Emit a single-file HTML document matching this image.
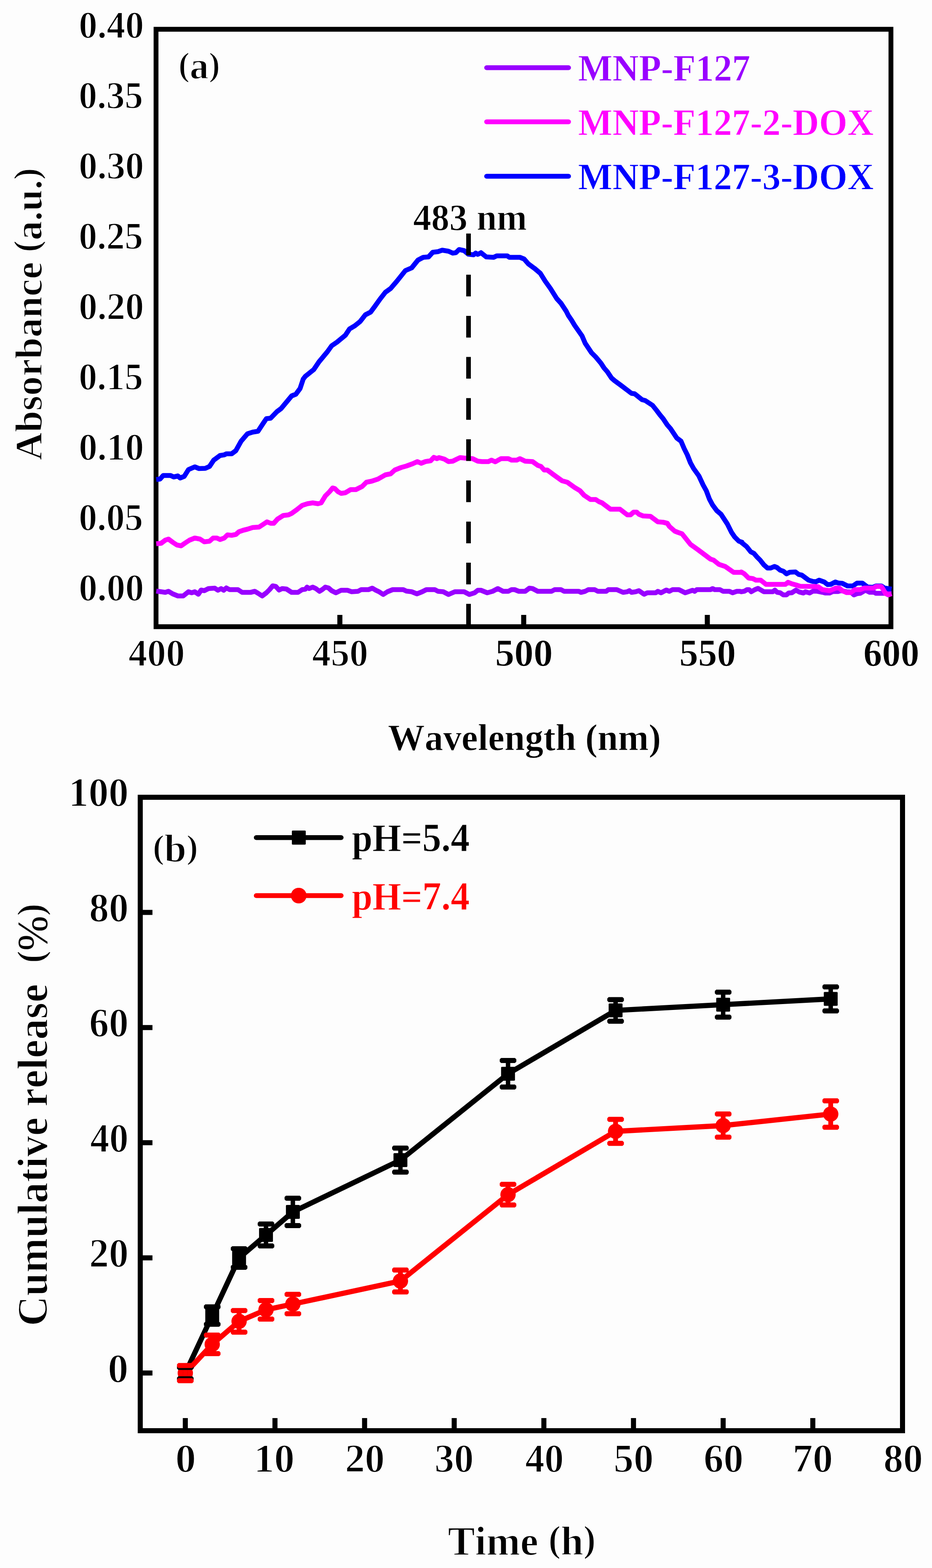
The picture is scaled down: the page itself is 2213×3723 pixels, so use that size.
<!DOCTYPE html>
<html lang="en"><head><meta charset="utf-8"><title>UV-vis absorbance and cumulative release</title>
<style>html,body{margin:0;padding:0;background:#fdfdfd}body{width:2213px;height:3723px;overflow:hidden}svg{display:block}text{font-family:"Liberation Serif","DejaVu Serif",serif;font-weight:bold;font-size:87.5px;font-kerning:none;white-space:pre}</style></head><body>
<svg width="2213" height="3723" viewBox="0 0 2213 3723" role="img" aria-label="Absorbance spectra and cumulative release curves">
<desc>(a) Absorbance (a.u.) versus Wavelength (nm) for MNP-F127, MNP-F127-2-DOX and MNP-F127-3-DOX, peak at 483 nm. (b) Cumulative release (%) versus Time (h) at pH=5.4 and pH=7.4.</desc>
<rect width="2213" height="3723" fill="#fdfdfd"/>
<g fill="none" stroke-linejoin="round" stroke-linecap="butt">
<rect x="370.5" y="69.5" width="1745" height="1418.5" stroke="#000" stroke-width="11.5" stroke-linejoin="miter"/>
<line x1="807.0" y1="1460" x2="807.0" y2="1484" stroke="#000" stroke-width="12"/>
<line x1="1243.5" y1="1460" x2="1243.5" y2="1484" stroke="#000" stroke-width="12"/>
<line x1="1679.5" y1="1460" x2="1679.5" y2="1484" stroke="#000" stroke-width="12"/>
<path d="M371.0 1403.5 L382.5 1405.0 L392.5 1406.5 L400.0 1404.0 L410.0 1410.0 L422.5 1415.0 L435.0 1415.0 L447.5 1405.0 L455.0 1407.5 L462.5 1405.0 L471.0 1411.0 L477.5 1401.0 L485.0 1402.5 L495.0 1397.5 L510.0 1396.5 L517.5 1401.5 L525.0 1397.5 L531.0 1401.5 L537.5 1396.0 L545.0 1400.0 L565.0 1400.0 L575.0 1406.5 L595.0 1406.5 L605.0 1404.0 L612.5 1408.5 L622.5 1415.0 L632.5 1407.5 L640.0 1400.0 L647.5 1391.0 L655.0 1392.5 L662.5 1401.0 L670.0 1397.5 L680.0 1398.5 L692.5 1406.5 L707.5 1406.5 L717.5 1400.0 L725.0 1399.0 L729.0 1394.0 L734.0 1397.5 L742.5 1394.0 L750.0 1397.5 L758.5 1404.0 L765.0 1400.0 L772.5 1394.0 L780.0 1396.0 L787.5 1402.5 L797.5 1407.5 L810.0 1401.5 L825.0 1401.5 L835.0 1405.0 L850.0 1404.0 L857.5 1400.0 L875.0 1400.0 L884.0 1396.5 L892.5 1401.5 L900.0 1405.0 L910.0 1411.5 L920.0 1405.0 L932.5 1400.0 L957.5 1400.0 L965.0 1403.5 L977.5 1405.0 L990.0 1410.0 L1002.5 1405.0 L1012.5 1400.0 L1032.5 1400.0 L1040.0 1404.0 L1052.5 1405.0 L1065.0 1411.5 L1080.0 1405.0 L1102.0 1405.0 L1114.5 1411.5 L1127.0 1407.5 L1134.5 1401.5 L1142.0 1401.5 L1157.0 1407.5 L1169.5 1404.0 L1182.0 1397.5 L1194.5 1404.0 L1207.0 1404.0 L1214.5 1400.0 L1222.0 1400.0 L1232.0 1404.0 L1247.0 1404.0 L1257.0 1396.5 L1264.5 1397.5 L1277.0 1404.0 L1309.5 1404.0 L1317.0 1400.0 L1332.0 1400.0 L1339.5 1404.0 L1374.5 1404.0 L1379.5 1406.5 L1389.5 1404.0 L1397.0 1400.0 L1412.0 1400.0 L1419.5 1404.0 L1439.5 1404.0 L1444.5 1400.0 L1464.5 1400.0 L1479.5 1406.5 L1489.5 1405.0 L1494.5 1402.5 L1499.5 1406.5 L1509.5 1405.0 L1517.0 1402.5 L1529.5 1411.0 L1537.0 1407.5 L1557.0 1407.5 L1562.0 1404.0 L1569.5 1407.5 L1582.0 1401.0 L1589.5 1404.0 L1597.0 1400.0 L1612.0 1400.0 L1627.0 1407.5 L1644.5 1401.5 L1649.5 1404.0 L1654.5 1400.0 L1687.0 1400.0 L1692.0 1397.5 L1697.0 1400.0 L1709.5 1400.0 L1717.0 1404.0 L1732.0 1404.0 L1739.5 1407.5 L1749.5 1404.0 L1757.0 1404.0 L1760.0 1405.0 L1767.5 1403.8 L1773.8 1400.0 L1778.8 1400.0 L1783.8 1405.0 L1792.5 1400.0 L1800.0 1397.0 L1813.8 1405.0 L1835.0 1405.0 L1840.0 1401.2 L1845.0 1406.2 L1852.5 1407.5 L1860.0 1412.5 L1867.5 1412.5 L1872.5 1408.0 L1880.0 1407.5 L1890.0 1401.2 L1897.5 1405.5 L1907.5 1408.0 L1912.5 1405.0 L1922.5 1408.0 L1930.0 1403.8 L1940.0 1403.8 L1952.5 1406.2 L1960.0 1408.0 L1970.0 1408.0 L1977.5 1404.5 L1990.0 1404.5 L1997.5 1402.5 L2010.0 1405.0 L2020.0 1405.5 L2027.5 1412.5 L2035.0 1409.5 L2042.5 1408.8 L2055.0 1401.2 L2065.0 1406.2 L2075.0 1406.2 L2080.0 1408.8 L2092.5 1408.8 L2117.0 1408.8" stroke="#9900ff" stroke-width="11.6"/>
<path d="M371.0 1138.5 L380.0 1137.5 L387.5 1129.0 L405.0 1129.0 L412.5 1132.5 L422.5 1130.0 L427.5 1135.0 L437.5 1131.0 L447.5 1115.0 L462.5 1108.5 L472.5 1112.5 L487.5 1112.0 L497.5 1107.5 L507.5 1092.5 L522.5 1081.5 L532.5 1080.0 L537.5 1077.5 L550.0 1077.5 L560.0 1070.0 L572.5 1047.5 L587.5 1030.0 L600.0 1026.0 L612.5 1024.0 L625.0 1005.0 L632.5 994.0 L642.5 993.0 L657.5 977.5 L667.5 970.0 L680.0 955.0 L692.5 940.0 L702.5 936.0 L712.5 922.5 L720.0 900.0 L725.0 893.5 L745.0 877.5 L757.5 859.0 L770.0 844.0 L777.5 835.0 L787.5 821.0 L800.0 812.5 L820.0 796.0 L830.0 781.0 L842.5 773.5 L855.0 763.5 L867.5 747.5 L880.0 741.0 L890.0 727.5 L902.5 710.0 L915.0 694.0 L927.5 685.0 L942.5 667.5 L962.5 642.5 L977.5 636.0 L992.5 617.5 L1005.0 611.0 L1017.5 610.0 L1027.5 599.0 L1040.0 597.5 L1050.0 594.0 L1065.0 596.5 L1075.0 601.0 L1082.5 600.0 L1090.0 592.5 L1102.0 595.0 L1112.0 603.5 L1124.5 605.0 L1129.5 601.0 L1134.5 604.0 L1142.0 600.0 L1154.5 610.0 L1172.0 611.0 L1179.5 607.5 L1204.5 607.5 L1209.5 611.0 L1234.5 611.0 L1244.5 615.0 L1254.5 626.5 L1269.5 637.5 L1283.0 649.0 L1294.5 667.5 L1307.0 685.0 L1322.0 709.0 L1332.0 720.0 L1344.5 739.0 L1349.5 749.0 L1357.0 760.0 L1364.5 772.5 L1382.0 797.5 L1389.5 815.0 L1404.5 837.5 L1414.5 847.5 L1427.0 862.5 L1434.5 874.0 L1442.0 882.5 L1452.0 897.5 L1459.5 904.0 L1474.5 915.0 L1499.5 934.0 L1507.0 935.0 L1524.5 949.0 L1532.0 951.0 L1549.5 962.5 L1559.5 975.0 L1567.0 985.0 L1574.5 994.0 L1584.5 1009.0 L1592.0 1017.5 L1607.0 1040.0 L1617.0 1047.5 L1624.5 1065.0 L1632.0 1080.0 L1639.5 1099.0 L1647.0 1112.5 L1659.5 1130.0 L1669.5 1151.5 L1677.0 1165.0 L1684.5 1185.0 L1692.0 1199.0 L1702.0 1212.5 L1712.0 1221.0 L1727.0 1244.0 L1737.0 1264.0 L1744.5 1275.0 L1754.5 1285.0 L1762.0 1287.5 L1760.0 1287.5 L1772.5 1297.5 L1782.5 1310.0 L1790.0 1313.8 L1797.5 1322.5 L1805.0 1330.0 L1813.8 1341.2 L1822.5 1348.8 L1830.0 1348.8 L1838.8 1345.0 L1845.0 1347.5 L1852.5 1353.8 L1860.0 1356.2 L1867.5 1362.5 L1875.0 1358.8 L1888.8 1358.0 L1896.2 1363.8 L1903.8 1365.5 L1920.0 1377.5 L1930.0 1380.5 L1937.5 1381.2 L1945.0 1377.5 L1957.5 1382.0 L1965.0 1388.0 L1972.5 1387.5 L1983.8 1381.8 L1990.0 1384.2 L2000.0 1385.0 L2012.5 1391.2 L2025.0 1391.2 L2035.0 1384.5 L2047.5 1384.5 L2060.0 1393.8 L2072.5 1394.5 L2080.0 1391.2 L2092.5 1391.2 L2100.0 1396.2 L2117.0 1398.8" stroke="#0000ff" stroke-width="11.6"/>
<path d="M371.0 1291.0 L382.5 1290.0 L392.5 1282.5 L400.0 1280.0 L410.0 1287.5 L420.0 1294.0 L430.0 1296.0 L440.0 1289.0 L450.0 1282.5 L462.5 1277.5 L475.0 1280.0 L485.0 1286.5 L497.5 1285.0 L506.0 1277.5 L515.0 1277.5 L522.5 1281.0 L532.5 1277.5 L540.0 1270.0 L550.0 1271.0 L560.0 1269.0 L567.5 1262.5 L577.5 1259.0 L587.5 1256.5 L600.0 1252.5 L615.0 1251.5 L625.0 1245.0 L634.0 1239.0 L642.5 1242.5 L650.0 1242.5 L659.0 1232.5 L672.5 1224.0 L685.0 1222.5 L692.5 1219.0 L705.0 1210.0 L717.5 1200.0 L730.0 1196.0 L742.5 1194.0 L755.0 1196.0 L762.5 1194.0 L772.5 1177.5 L782.5 1167.5 L790.0 1158.5 L795.0 1160.0 L802.5 1167.5 L810.0 1171.5 L820.0 1170.0 L832.5 1162.5 L845.0 1162.5 L860.0 1155.0 L870.0 1145.0 L882.5 1142.5 L897.5 1137.5 L915.0 1127.5 L927.5 1125.0 L937.5 1116.0 L952.5 1110.0 L965.0 1106.5 L980.0 1101.0 L991.0 1096.0 L1000.0 1100.0 L1010.0 1096.0 L1022.5 1094.0 L1030.0 1086.0 L1037.5 1089.0 L1042.5 1086.5 L1055.0 1090.0 L1065.0 1096.0 L1075.0 1095.0 L1085.0 1090.0 L1092.5 1086.5 L1102.0 1087.5 L1122.0 1089.0 L1134.5 1095.0 L1144.5 1096.0 L1159.5 1096.0 L1167.0 1092.5 L1176.0 1096.5 L1189.5 1089.0 L1207.0 1089.0 L1214.5 1092.5 L1227.0 1092.5 L1234.5 1089.0 L1247.0 1095.0 L1264.5 1096.0 L1277.0 1105.0 L1284.5 1107.5 L1292.0 1116.0 L1299.5 1116.0 L1317.0 1129.0 L1334.5 1141.5 L1347.0 1145.0 L1364.5 1157.5 L1377.0 1165.0 L1387.0 1176.0 L1402.0 1186.0 L1414.5 1186.0 L1422.0 1191.0 L1429.5 1194.0 L1449.5 1209.0 L1472.0 1209.0 L1489.5 1222.5 L1497.0 1222.5 L1504.5 1216.0 L1512.0 1216.0 L1517.0 1221.0 L1527.0 1225.0 L1544.5 1226.0 L1562.0 1239.0 L1574.5 1240.0 L1584.5 1242.5 L1589.5 1250.0 L1602.0 1261.0 L1609.5 1264.0 L1619.5 1267.5 L1639.5 1292.5 L1657.0 1305.0 L1687.0 1327.5 L1694.5 1330.0 L1707.0 1340.0 L1722.0 1345.0 L1742.0 1359.0 L1759.5 1359.0 L1760.0 1358.0 L1767.5 1362.5 L1777.5 1372.5 L1787.5 1373.8 L1795.0 1377.5 L1806.2 1377.5 L1818.8 1387.5 L1865.0 1387.5 L1871.2 1382.5 L1880.0 1386.2 L1890.0 1388.8 L1900.0 1392.0 L1935.0 1392.5 L1942.5 1393.0 L1952.5 1400.0 L1970.0 1402.5 L1985.0 1396.2 L1992.5 1396.2 L2000.0 1402.5 L2010.0 1407.0 L2020.0 1407.0 L2030.0 1400.0 L2042.5 1400.0 L2052.5 1396.2 L2075.0 1396.2 L2080.0 1392.5 L2092.5 1392.5 L2097.5 1400.0 L2102.5 1408.8 L2108.8 1412.5 L2117.0 1409.5" stroke="#ff00ff" stroke-width="11.6"/>
<line x1="1112.5" y1="554.5" x2="1112.5" y2="1484" stroke="#000" stroke-width="11" stroke-dasharray="51.5 46.2"/>
<line x1="1155.5" y1="160.7" x2="1350" y2="160.7" stroke="#9900ff" stroke-width="11.5" stroke-linecap="round"/>
<line x1="1155.5" y1="289.3" x2="1350" y2="289.3" stroke="#ff00ff" stroke-width="11.5" stroke-linecap="round"/>
<line x1="1155.5" y1="418.5" x2="1350" y2="418.5" stroke="#0000ff" stroke-width="11.5" stroke-linecap="round"/>
</g>
<g fill="none" stroke-linejoin="round">
<rect x="333" y="1893" width="1810" height="1504" stroke="#000" stroke-width="12" stroke-linejoin="miter"/>
<line x1="338" y1="3260.0" x2="362" y2="3260.0" stroke="#000" stroke-width="12"/>
<line x1="338" y1="2986.6" x2="362" y2="2986.6" stroke="#000" stroke-width="12"/>
<line x1="338" y1="2713.2" x2="362" y2="2713.2" stroke="#000" stroke-width="12"/>
<line x1="338" y1="2439.8" x2="362" y2="2439.8" stroke="#000" stroke-width="12"/>
<line x1="338" y1="2166.4" x2="362" y2="2166.4" stroke="#000" stroke-width="12"/>
<line x1="440.0" y1="3367" x2="440.0" y2="3392" stroke="#000" stroke-width="12"/>
<line x1="652.9" y1="3367" x2="652.9" y2="3392" stroke="#000" stroke-width="12"/>
<line x1="865.7" y1="3367" x2="865.7" y2="3392" stroke="#000" stroke-width="12"/>
<line x1="1078.5" y1="3367" x2="1078.5" y2="3392" stroke="#000" stroke-width="12"/>
<line x1="1291.4" y1="3367" x2="1291.4" y2="3392" stroke="#000" stroke-width="12"/>
<line x1="1504.2" y1="3367" x2="1504.2" y2="3392" stroke="#000" stroke-width="12"/>
<line x1="1717.1" y1="3367" x2="1717.1" y2="3392" stroke="#000" stroke-width="12"/>
<line x1="1930.0" y1="3367" x2="1930.0" y2="3392" stroke="#000" stroke-width="12"/>
<path d="M440.0 3260.3 L503.9 3123.6 L567.7 2986.9 L631.6 2932.2 L695.4 2877.5 L950.8 2754.5 L1206.3 2549.5 L1461.7 2399.1 L1717.1 2385.4 L1972.5 2371.8" stroke="#000" stroke-width="12.4"/>
<path d="M440.0 3260.3 L503.9 3192.0 L567.7 3137.3 L631.6 3109.9 L695.4 3096.3 L950.8 3041.6 L1206.3 2836.5 L1461.7 2686.2 L1717.1 2672.5 L1972.5 2645.2" stroke="#ff0000" stroke-width="12.4"/>
</g>
<rect x="423.5" y="3243.8" width="33" height="33" rx="2" fill="#000"/>
<rect x="487.4" y="3107.1" width="33" height="33" rx="2" fill="#000"/>
<rect x="551.2" y="2970.4" width="33" height="33" rx="2" fill="#000"/>
<rect x="615.1" y="2915.7" width="33" height="33" rx="2" fill="#000"/>
<rect x="678.9" y="2861.0" width="33" height="33" rx="2" fill="#000"/>
<rect x="934.3" y="2738.0" width="33" height="33" rx="2" fill="#000"/>
<rect x="1189.8" y="2533.0" width="33" height="33" rx="2" fill="#000"/>
<rect x="1445.2" y="2382.6" width="33" height="33" rx="2" fill="#000"/>
<rect x="1700.6" y="2368.9" width="33" height="33" rx="2" fill="#000"/>
<rect x="1956.0" y="2355.2" width="33" height="33" rx="2" fill="#000"/>
<circle cx="440.0" cy="3260.3" r="18.2" fill="#ff0000"/>
<circle cx="503.9" cy="3192.0" r="18.2" fill="#ff0000"/>
<circle cx="567.7" cy="3137.3" r="18.2" fill="#ff0000"/>
<circle cx="631.6" cy="3109.9" r="18.2" fill="#ff0000"/>
<circle cx="695.4" cy="3096.3" r="18.2" fill="#ff0000"/>
<circle cx="950.8" cy="3041.6" r="18.2" fill="#ff0000"/>
<circle cx="1206.3" cy="2836.5" r="18.2" fill="#ff0000"/>
<circle cx="1461.7" cy="2686.2" r="18.2" fill="#ff0000"/>
<circle cx="1717.1" cy="2672.5" r="18.2" fill="#ff0000"/>
<circle cx="1972.5" cy="2645.2" r="18.2" fill="#ff0000"/>
<path d="M440.0 3246.8V3273.8M503.9 3102.9V3144.3M567.7 2964.9V3008.9M631.6 2906.2V2958.2M695.4 2845.0V2910.0M950.8 2726.0V2783.0M1206.3 2518.0V2581.0M1461.7 2373.5V2424.7M1717.1 2355.8V2415.0M1972.5 2343.2V2400.2" fill="none" stroke="#000" stroke-width="10.6"/>
<path d="M440.0 3242.3V3278.3M503.9 3170.0V3214.0M567.7 3111.7V3162.9M631.6 3087.9V3131.9M695.4 3073.3V3119.3M950.8 3015.6V3067.6M1206.3 2812.0V2861.0M1461.7 2657.7V2714.7M1717.1 2645.1V2699.9M1972.5 2613.8V2676.5" fill="none" stroke="#ff0000" stroke-width="11.4"/>
<path d="M423.5 3240.8H456.5L459.7 3244.0V3249.6L456.5 3252.8H423.5L420.3 3249.6V3244.0ZM423.5 3267.8H456.5L459.7 3271.0V3276.6L456.5 3279.8H423.5L420.3 3276.6V3271.0ZM487.4 3096.9H520.4L523.6 3100.1V3105.7L520.4 3108.9H487.4L484.2 3105.7V3100.1ZM487.4 3138.3H520.4L523.6 3141.5V3147.1L520.4 3150.3H487.4L484.2 3147.1V3141.5ZM551.2 2958.9H584.2L587.4 2962.1V2967.7L584.2 2970.9H551.2L548.0 2967.7V2962.1ZM551.2 3002.9H584.2L587.4 3006.1V3011.7L584.2 3014.9H551.2L548.0 3011.7V3006.1ZM615.1 2900.2H648.1L651.3 2903.4V2909.0L648.1 2912.2H615.1L611.9 2909.0V2903.4ZM615.1 2952.2H648.1L651.3 2955.4V2961.0L648.1 2964.2H615.1L611.9 2961.0V2955.4ZM678.9 2839.0H711.9L715.1 2842.2V2847.8L711.9 2851.0H678.9L675.7 2847.8V2842.2ZM678.9 2904.0H711.9L715.1 2907.2V2912.8L711.9 2916.0H678.9L675.7 2912.8V2907.2ZM934.3 2720.0H967.3L970.5 2723.2V2728.8L967.3 2732.0H934.3L931.1 2728.8V2723.2ZM934.3 2777.0H967.3L970.5 2780.2V2785.8L967.3 2789.0H934.3L931.1 2785.8V2780.2ZM1189.8 2512.0H1222.8L1226.0 2515.2V2520.8L1222.8 2524.0H1189.8L1186.6 2520.8V2515.2ZM1189.8 2575.0H1222.8L1226.0 2578.2V2583.8L1222.8 2587.0H1189.8L1186.6 2583.8V2578.2ZM1445.2 2367.5H1478.2L1481.4 2370.7V2376.3L1478.2 2379.5H1445.2L1442.0 2376.3V2370.7ZM1445.2 2418.7H1478.2L1481.4 2421.9V2427.5L1478.2 2430.7H1445.2L1442.0 2427.5V2421.9ZM1700.6 2349.8H1733.6L1736.8 2353.0V2358.6L1733.6 2361.8H1700.6L1697.4 2358.6V2353.0ZM1700.6 2409.0H1733.6L1736.8 2412.2V2417.8L1733.6 2421.0H1700.6L1697.4 2417.8V2412.2ZM1956.0 2337.2H1989.0L1992.2 2340.4V2346.1L1989.0 2349.2H1956.0L1952.8 2346.1V2340.4ZM1956.0 2394.2H1989.0L1992.2 2397.4V2403.1L1989.0 2406.2H1956.0L1952.8 2403.1V2397.4Z" fill="#000"/>
<path d="M423.5 3236.3H456.5L459.7 3239.5V3245.1L456.5 3248.3H423.5L420.3 3245.1V3239.5ZM423.5 3272.3H456.5L459.7 3275.5V3281.1L456.5 3284.3H423.5L420.3 3281.1V3275.5ZM487.4 3164.0H520.4L523.6 3167.2V3172.8L520.4 3176.0H487.4L484.2 3172.8V3167.2ZM487.4 3208.0H520.4L523.6 3211.2V3216.8L520.4 3220.0H487.4L484.2 3216.8V3211.2ZM551.2 3105.7H584.2L587.4 3108.9V3114.5L584.2 3117.7H551.2L548.0 3114.5V3108.9ZM551.2 3156.9H584.2L587.4 3160.1V3165.7L584.2 3168.9H551.2L548.0 3165.7V3160.1ZM615.1 3081.9H648.1L651.3 3085.1V3090.7L648.1 3093.9H615.1L611.9 3090.7V3085.1ZM615.1 3125.9H648.1L651.3 3129.1V3134.7L648.1 3137.9H615.1L611.9 3134.7V3129.1ZM678.9 3067.3H711.9L715.1 3070.5V3076.1L711.9 3079.3H678.9L675.7 3076.1V3070.5ZM678.9 3113.3H711.9L715.1 3116.5V3122.1L711.9 3125.3H678.9L675.7 3122.1V3116.5ZM934.3 3009.6H967.3L970.5 3012.8V3018.4L967.3 3021.6H934.3L931.1 3018.4V3012.8ZM934.3 3061.6H967.3L970.5 3064.8V3070.4L967.3 3073.6H934.3L931.1 3070.4V3064.8ZM1189.8 2806.0H1222.8L1226.0 2809.2V2814.8L1222.8 2818.0H1189.8L1186.6 2814.8V2809.2ZM1189.8 2855.0H1222.8L1226.0 2858.2V2863.8L1222.8 2867.0H1189.8L1186.6 2863.8V2858.2ZM1445.2 2651.7H1478.2L1481.4 2654.9V2660.5L1478.2 2663.7H1445.2L1442.0 2660.5V2654.9ZM1445.2 2708.7H1478.2L1481.4 2711.9V2717.5L1478.2 2720.7H1445.2L1442.0 2717.5V2711.9ZM1700.6 2639.1H1733.6L1736.8 2642.3V2647.9L1733.6 2651.1H1700.6L1697.4 2647.9V2642.3ZM1700.6 2693.9H1733.6L1736.8 2697.1V2702.7L1733.6 2705.9H1700.6L1697.4 2702.7V2697.1ZM1956.0 2607.8H1989.0L1992.2 2611.0V2616.7L1989.0 2619.8H1956.0L1952.8 2616.7V2611.0ZM1956.0 2670.5H1989.0L1992.2 2673.7V2679.3L1989.0 2682.5H1956.0L1952.8 2679.3V2673.7Z" fill="#ff0000"/>
<line x1="608.5" y1="1988.8" x2="810" y2="1988.8" stroke="#000" stroke-width="11.5" stroke-linecap="round"/>
<rect x="693" y="1972" width="33" height="33.5" rx="2" fill="#000"/>
<line x1="608.5" y1="2126.5" x2="810" y2="2126.5" stroke="#ff0000" stroke-width="11.5" stroke-linecap="round"/>
<circle cx="709.3" cy="2126.5" r="18.6" fill="#ff0000"/>
<text transform="translate(186.95 90.00) scale(1.0111 1.0405)" fill="#000" stroke="#fdfdfd" stroke-width="1.95" stroke-linejoin="round">0.40</text>
<text transform="translate(187.01 257.00) scale(0.9973 1.0405)" fill="#000" stroke="#fdfdfd" stroke-width="1.96" stroke-linejoin="round">0.35</text>
<text transform="translate(186.95 424.00) scale(1.0111 1.0405)" fill="#000" stroke="#fdfdfd" stroke-width="1.95" stroke-linejoin="round">0.30</text>
<text transform="translate(187.01 591.00) scale(0.9973 1.0405)" fill="#000" stroke="#fdfdfd" stroke-width="1.96" stroke-linejoin="round">0.25</text>
<text transform="translate(186.95 758.00) scale(1.0111 1.0405)" fill="#000" stroke="#fdfdfd" stroke-width="1.95" stroke-linejoin="round">0.20</text>
<text transform="translate(187.01 925.00) scale(0.9973 1.0405)" fill="#000" stroke="#fdfdfd" stroke-width="1.96" stroke-linejoin="round">0.15</text>
<text transform="translate(186.95 1092.00) scale(1.0111 1.0405)" fill="#000" stroke="#fdfdfd" stroke-width="1.95" stroke-linejoin="round">0.10</text>
<text transform="translate(187.01 1259.00) scale(0.9973 1.0405)" fill="#000" stroke="#fdfdfd" stroke-width="1.96" stroke-linejoin="round">0.05</text>
<text transform="translate(186.95 1426.00) scale(1.0111 1.0405)" fill="#000" stroke="#fdfdfd" stroke-width="1.95" stroke-linejoin="round">0.00</text>
<text transform="translate(304.96 1581.00) scale(1.0192 1.0498)" fill="#000" stroke="#fdfdfd" stroke-width="1.93" stroke-linejoin="round">400</text>
<text transform="translate(740.97 1581.00) scale(1.0160 1.0498)" fill="#000" stroke="#fdfdfd" stroke-width="1.94" stroke-linejoin="round">450</text>
<text transform="translate(1175.84 1580.50) scale(1.0407 1.0334)" fill="#000" stroke="#fdfdfd" stroke-width="0.96" stroke-linejoin="round">500</text>
<text transform="translate(1612.90 1580.50) scale(1.0244 1.0334)" fill="#000" stroke="#fdfdfd" stroke-width="0.97" stroke-linejoin="round">550</text>
<text transform="translate(2049.95 1580.50) scale(1.0130 1.0334)" fill="#000" stroke="#fdfdfd" stroke-width="0.98" stroke-linejoin="round">600</text>
<text transform="translate(423.85 187.30) scale(1.0323 1.0323)" fill="#000" stroke="#fdfdfd" stroke-width="1.94" stroke-linejoin="round"><tspan font-size="77.7" dy="-7.4">(</tspan><tspan dy="7.4">a</tspan><tspan font-size="77.7" dy="-7.4">)</tspan></text>
<text transform="translate(1372.51 191.40) scale(0.9907 1.0263)" fill="#9900ff" stroke="#fdfdfd" stroke-width="0.99" stroke-linejoin="round">MNP-F127</text>
<text transform="translate(1372.52 320.30) scale(0.9898 1.0161)" fill="#ff00ff" stroke="#fdfdfd" stroke-width="1.00" stroke-linejoin="round">MNP-F127-2-DOX</text>
<text transform="translate(1372.52 449.10) scale(0.9898 1.0161)" fill="#0000ff" stroke="#fdfdfd" stroke-width="1.00" stroke-linejoin="round">MNP-F127-3-DOX</text>
<text transform="translate(981.02 545.65) scale(0.9838 1.0210)" fill="#000" stroke="#fdfdfd" stroke-width="1.30" stroke-linejoin="round">483 nm</text>
<text transform="translate(921.00 1781.30) scale(0.9994 1.0060)" fill="#000" stroke="#fdfdfd" stroke-width="1.00" stroke-linejoin="round">Wavelength (nm)</text>
<text transform="translate(99.00 1093.11) rotate(-90) scale(1.0536 1.0426)" fill="#000" stroke="#fdfdfd" stroke-width="1.91" stroke-linejoin="round">Absorbance <tspan font-size="80.9" dy="-7.7">(</tspan><tspan dy="7.7">a.u.</tspan><tspan font-size="80.9" dy="-7.7">)</tspan></text>
<text transform="translate(162.76 1913.90) scale(1.0865 1.1045)" fill="#000" stroke="#fdfdfd" stroke-width="1.83" stroke-linejoin="round">100</text>
<text transform="translate(211.73 2187.50) scale(1.0685 1.1045)" fill="#000" stroke="#fdfdfd" stroke-width="1.84" stroke-linejoin="round">80</text>
<text transform="translate(211.73 2461.10) scale(1.0685 1.1045)" fill="#000" stroke="#fdfdfd" stroke-width="1.84" stroke-linejoin="round">60</text>
<text transform="translate(213.92 2734.70) scale(1.0420 1.1045)" fill="#000" stroke="#fdfdfd" stroke-width="1.86" stroke-linejoin="round">40</text>
<text transform="translate(211.67 3008.30) scale(1.0693 1.1045)" fill="#000" stroke="#fdfdfd" stroke-width="1.84" stroke-linejoin="round">20</text>
<text transform="translate(255.96 3281.90) scale(1.1143 1.1045)" fill="#000" stroke="#fdfdfd" stroke-width="1.80" stroke-linejoin="round">0</text>
<text transform="translate(416.54 3495.30) scale(1.1157 1.0932)" fill="#000" stroke="#fdfdfd" stroke-width="1.81" stroke-linejoin="round">0</text>
<text transform="translate(602.65 3495.30) scale(1.1068 1.0932)" fill="#000" stroke="#fdfdfd" stroke-width="1.82" stroke-linejoin="round">10</text>
<text transform="translate(819.13 3495.30) scale(1.0771 1.0932)" fill="#000" stroke="#fdfdfd" stroke-width="1.84" stroke-linejoin="round">20</text>
<text transform="translate(1031.73 3495.30) scale(1.0634 1.0932)" fill="#000" stroke="#fdfdfd" stroke-width="1.85" stroke-linejoin="round">30</text>
<text transform="translate(1246.90 3495.30) scale(1.0494 1.0932)" fill="#000" stroke="#fdfdfd" stroke-width="1.87" stroke-linejoin="round">40</text>
<text transform="translate(1457.10 3495.30) scale(1.0848 1.0932)" fill="#000" stroke="#fdfdfd" stroke-width="1.84" stroke-linejoin="round">50</text>
<text transform="translate(1670.68 3495.30) scale(1.0811 1.0932)" fill="#000" stroke="#fdfdfd" stroke-width="1.84" stroke-linejoin="round">60</text>
<text transform="translate(1881.89 3495.30) scale(1.0963 1.0932)" fill="#000" stroke="#fdfdfd" stroke-width="1.83" stroke-linejoin="round">70</text>
<text transform="translate(2097.72 3495.30) scale(1.0710 1.0932)" fill="#000" stroke="#fdfdfd" stroke-width="1.85" stroke-linejoin="round">80</text>
<text transform="translate(362.66 2045.50) scale(1.0792 1.0632)" fill="#000" stroke="#fdfdfd" stroke-width="1.87" stroke-linejoin="round"><tspan font-size="76.4" dy="-7.2">(</tspan><tspan dy="7.2">b</tspan><tspan font-size="76.4" dy="-7.2">)</tspan></text>
<text transform="translate(835.49 2021.10) scale(1.0044 1.0669)" fill="#000" stroke="#fdfdfd" stroke-width="0.97" stroke-linejoin="round">pH=<tspan font-size="89.5">5.4</tspan></text>
<text transform="translate(835.49 2159.50) scale(1.0044 1.0669)" fill="#ff0000" stroke="#fdfdfd" stroke-width="0.97" stroke-linejoin="round">pH=<tspan font-size="89.5">7.4</tspan></text>
<text transform="translate(1063.26 3692.00) scale(1.1055 1.1221)" fill="#000" stroke="#fdfdfd" stroke-width="1.80" stroke-linejoin="round">Time <tspan font-size="79.3" dy="-6.7">(</tspan><tspan dy="6.7">h</tspan><tspan font-size="79.3" dy="-6.7">)</tspan></text>
<text transform="translate(112.00 3148.75) rotate(-90) scale(1.1335 1.1510)" fill="#000" stroke="#fdfdfd" stroke-width="1.75" stroke-linejoin="round">Cumulative release  <tspan font-size="78.1" dy="-8.4">(</tspan><tspan dy="8.4"><tspan font-weight="normal" stroke="none">%</tspan></tspan><tspan font-size="78.1" dy="-8.4">)</tspan></text>
</svg></body></html>
